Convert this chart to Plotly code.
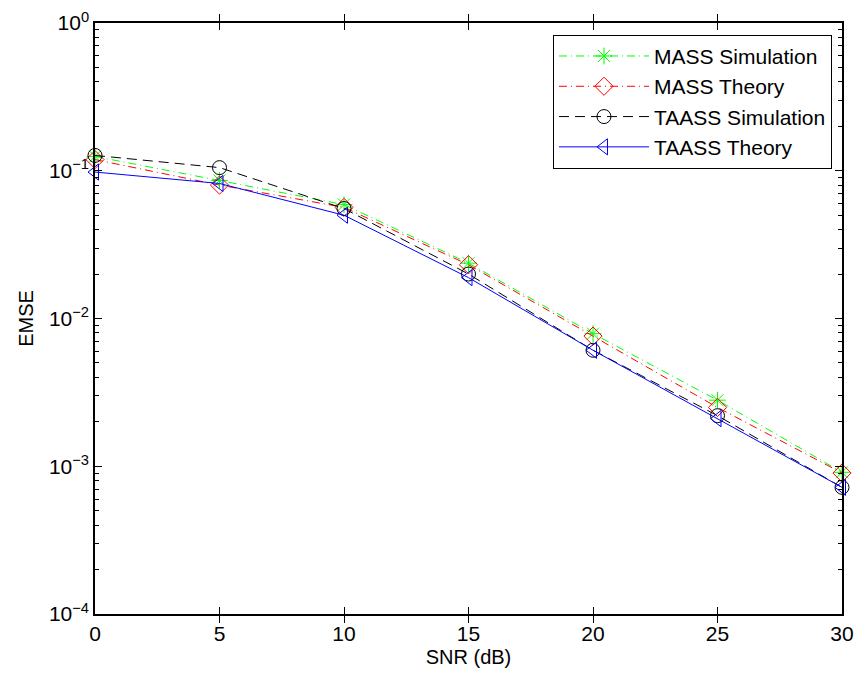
import plotly.graph_objects as go

snr_db = [0, 5, 10, 15, 20, 25, 30]

mass_sim = [0.125, 0.086, 0.059, 0.0237, 0.0079, 0.0028, 0.00091]
mass_theory = [0.119, 0.080, 0.0565, 0.0231, 0.0076, 0.0025, 0.00090]
taass_sim = [0.127, 0.105, 0.0555, 0.0200, 0.0061, 0.0022, 0.00072]
taass_theory = [0.098, 0.082, 0.050, 0.0189, 0.0061, 0.0021, 0.00072]

y_tickvals = [1e-4, 1e-3, 1e-2, 1e-1, 1]
y_ticktext = ["10<sup>−4</sup>", "10<sup>−3</sup>", "10<sup>−2</sup>", "10<sup>−1</sup>", "10<sup>0</sup>"]
# minor log ticks 2..9 in each decade
y_minor = [m * d for d in [1e-4, 1e-3, 1e-2, 1e-1] for m in range(2, 10)]

FONT = "Liberation Sans, Arial, sans-serif"

series = [
    ("MASS Simulation", mass_sim, "rgb(0,255,0)", "8px,4px,1px,4px", "asterisk-open"),
    ("MASS Theory", mass_theory, "rgb(255,0,0)", "8px,4px,1px,4px", "diamond-open"),
    ("TAASS Simulation", taass_sim, "black", "10px,6px", "circle-open"),
    ("TAASS Theory", taass_theory, "rgb(0,0,255)", "solid", "triangle-left-open"),
]

fig = go.Figure()
for name, vals, color, dash, symbol in series:
    fig.add_trace(go.Scatter(
        x=snr_db, y=vals, name=name, mode="lines+markers", cliponaxis=False,
        line=dict(color=color, width=1, dash=dash),
        marker=dict(symbol=symbol, size=14, color=color, line=dict(color=color, width=1)),
    ))

axis_common = dict(
    showline=True, linecolor="black", linewidth=1.5, mirror="allticks",
    ticks="inside", ticklen=7, tickcolor="black", showgrid=False, zeroline=False,
    tickfont=dict(family=FONT, size=21, color="black"), automargin=False,
)

fig.update_xaxes(
    range=[0, 30], tickvals=snr_db, ticklabeloverflow="allow",
    title=dict(text="SNR (dB)", font=dict(family=FONT, size=20, color="black"), standoff=6),
    **axis_common,
)
fig.update_layout(
    yaxis=dict(
        type="log", range=[-4, 0], tickvals=y_tickvals, ticktext=y_ticktext,
        title=dict(text="EMSE", font=dict(family=FONT, size=20, color="black"), standoff=10),
        **axis_common,
    ),
    # second log axis only for the short minor ticks
    yaxis2=dict(
        type="log", range=[-4, 0], overlaying="y", anchor="x", side="left",
        tickvals=y_minor, showticklabels=False, ticks="inside", ticklen=4,
        tickcolor="black", showline=True, linecolor="black", linewidth=1.5,
        mirror="allticks", showgrid=False, zeroline=False, automargin=False,
    ),
)
# invisible anchor trace so yaxis2 is drawn
fig.add_trace(go.Scatter(x=[None], y=[None], yaxis="y2", showlegend=False, hoverinfo="skip"))

fig.update_layout(
    width=857, height=674,
    margin=dict(l=95, r=15, t=23, b=60),
    paper_bgcolor="white", plot_bgcolor="white",
    font=dict(family=FONT, color="black"),
    legend=dict(
        x=0.9866, y=0.98, xanchor="right", yanchor="top",
        bgcolor="white", bordercolor="black", borderwidth=1,
        font=dict(family=FONT, size=21, color="black"),
        itemwidth=90, tracegroupgap=0,
    ),
)

fig.write_html("out.html", post_script="document.body.style.margin='0';",
               config={"displayModeBar": False})
